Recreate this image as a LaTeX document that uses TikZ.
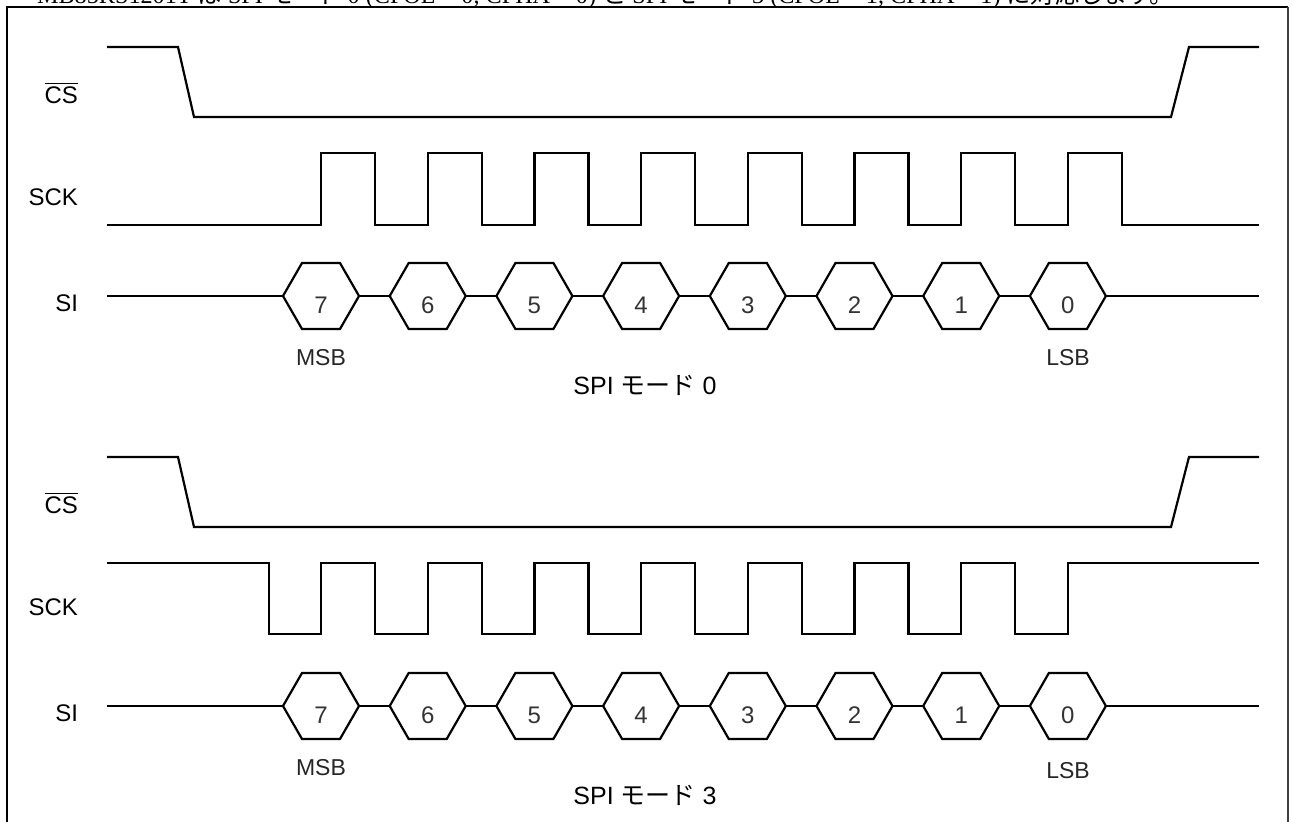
\documentclass[tikz,border=0pt]{standalone}
\usepackage{fontspec}
\setmainfont{Liberation Sans}
\newfontfamily\jpfont{Noto Sans CJK JP}
\newfontfamily\headfont{Liberation Serif}

\begin{document}
\begin{tikzpicture}[x=0.5pt,y=-0.5pt,
    wave/.style={line width=1.1pt,line join=miter},
    frame/.style={line width=0.6pt},
    sig/.style={anchor=east,font=\fontsize{12}{14}\selectfont},
    bit/.style={font=\fontsize{12}{14}\selectfont,text=black!80},
    bitend/.style={font=\fontsize{11.5}{13}\selectfont,text=black!85},
    mode/.style={font=\fontsize{12.5}{14}\selectfont}]
    \useasboundingbox (0,0) rectangle (1292,822);

    % header line, cut off by the page
    \node[anchor=base west,font=\headfont\fontsize{12.1}{14}\selectfont] (head) at (30,4)
        {MB85RS1201T {\jpfont は} SPI {\jpfont モード} 0 (CPOL = 0, CPHA = 0) {\jpfont と} SPI {\jpfont モード} 3 (CPOL = 1, CPHA = 1) {\jpfont に対応します。}};

    % frame
    \draw[frame] (7,822) -- (7,7) -- (1288,7);
    \draw[frame,black!75,line width=0.9pt] (1288,7) -- (1288,822);

    % SPI mode 0
    \coordinate (cs0a) at (107,47);
    \coordinate (cs0b) at (1259,47);
    \draw[wave] (cs0a) -- (178,47) -- (194,117) -- (1171,117) -- (1189,47) -- (cs0b);
    \draw[wave] (107,225) \foreach \i in {0,...,7} {
          -- ({321+106.7*\i},225) -- ++(0,-72) -- ++(54,0) -- ++(0,72) } -- (1259,225);

    \node[sig] (cs0) at (85,93) {\(\overline{\mbox{CS}}\)};
    \node[sig] (sck0) at (85,197) {SCK};
    \node[sig] (si0) at (85,303) {SI};

    % SPI mode 3
    \coordinate (cs3a) at (107,457);
    \coordinate (cs3b) at (1259,457);
    \draw[wave] (cs3a) -- (178,457) -- (194,527) -- (1171,527) -- (1189,457) -- (cs3b);
    \draw[wave] (107,563) -- (269,563) -- (269,634) \foreach \i in {0,...,6} {
          -- ({321+106.7*\i},634) -- ++(0,-71) -- ++(54,0) -- ++(0,71) }
          -- (1068,634) -- (1068,563) -- (1259,563);

    \node[sig] (cs3) at (85,503) {\(\overline{\mbox{CS}}\)};
    \node[sig] (sck3) at (85,607) {SCK};
    \node[sig] (si3) at (85,713) {SI};

    % SI data bits
    \foreach \sy/\m in {296/0,706/3} {
      \draw[wave] (107,\sy) -- (283,\sy);
      \draw[wave] (1106,\sy) -- (1259,\sy);
      \foreach \i/\b in {0/7,1/6,2/5,3/4,4/3,5/2,6/1,7/0} {
        \pgfmathsetmacro{\cx}{321+106.7*\i}
        \draw[wave] (\cx-38,\sy) -- (\cx-19,\sy-33) -- (\cx+19,\sy-33)
              -- (\cx+38,\sy) -- (\cx+19,\sy+33) -- (\cx-19,\sy+33) -- cycle;
        \node[bit] (d\b m\m) at (\cx,\sy+9) {\b};
      }
      \foreach \i in {0,...,6} {
        \draw[wave] ({321+106.7*\i+38},\sy) -- ({321+106.7*(\i+1)-38},\sy);
      }
    }

    \node[bitend] (msb0) at (321,358) {MSB};
    \node[bitend] (lsb0) at (1068,358) {LSB};
    \node[mode] (mode0) at (645,385) {SPI {\jpfont モード} 0};

    \node[bitend] (msb3) at (321,768) {MSB};
    \node[bitend] (lsb3) at (1068,771) {LSB};
    \node[mode] (mode3) at (645,795) {SPI {\jpfont モード} 3};
\end{tikzpicture}
\end{document}
